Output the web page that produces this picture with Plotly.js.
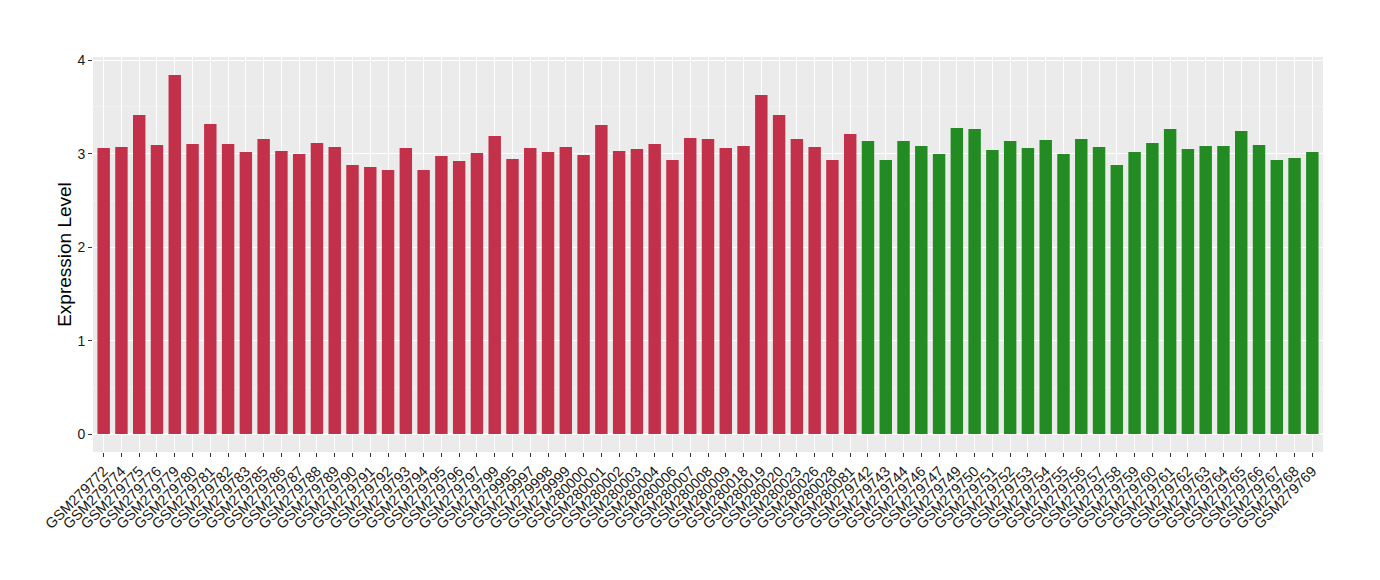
<!DOCTYPE html>
<html>
<head>
<meta charset="utf-8">
<script src="https://cdn.plot.ly/plotly-3.0.1.min.js"></script>
<style>html,body{margin:0;padding:0;background:#fff;}#chart{width:1380px;height:580px;}</style>
</head>
<body>
<div id="chart"></div>
<script>
const redSamples = ["GSM279772","GSM279774","GSM279775","GSM279776","GSM279779","GSM279780","GSM279781","GSM279782","GSM279783","GSM279785","GSM279786","GSM279787","GSM279788","GSM279789","GSM279790","GSM279791","GSM279792","GSM279793","GSM279794","GSM279795","GSM279796","GSM279797","GSM279799","GSM279995","GSM279997","GSM279998","GSM279999","GSM280000","GSM280001","GSM280002","GSM280003","GSM280004","GSM280006","GSM280007","GSM280008","GSM280009","GSM280018","GSM280019","GSM280020","GSM280023","GSM280026","GSM280028","GSM280081"];
const redValues = [3.061,3.071,3.414,3.093,3.843,3.104,3.318,3.104,3.018,3.157,3.029,2.996,3.114,3.071,2.879,2.857,2.825,3.061,2.825,2.975,2.921,3.007,3.189,2.943,3.061,3.018,3.071,2.986,3.307,3.029,3.050,3.104,2.932,3.168,3.157,3.061,3.082,3.629,3.414,3.157,3.071,2.932,3.211];
const greenSamples = ["GSM279742","GSM279743","GSM279744","GSM279746","GSM279747","GSM279749","GSM279750","GSM279751","GSM279752","GSM279753","GSM279754","GSM279755","GSM279756","GSM279757","GSM279758","GSM279759","GSM279760","GSM279761","GSM279762","GSM279763","GSM279764","GSM279765","GSM279766","GSM279767","GSM279768","GSM279769"];
const greenValues = [3.136,2.932,3.136,3.082,2.996,3.275,3.264,3.039,3.136,3.061,3.146,2.996,3.157,3.071,2.879,3.018,3.114,3.264,3.050,3.082,3.082,3.243,3.093,2.932,2.954,3.018];
const yTicks = [0,1,2,3,4];

const allCats = redSamples.concat(greenSamples);
const traces = [
  {type:'bar', x:redSamples, y:redValues, marker:{color:'#C2304A'}, hoverinfo:'x+y', showlegend:false},
  {type:'bar', x:greenSamples, y:greenValues, marker:{color:'#228B22'}, hoverinfo:'x+y', showlegend:false}
];
const layout = {
  width:1380, height:580,
  margin:{l:93, r:57, t:57, b:128},
  paper_bgcolor:'#ffffff', plot_bgcolor:'#EBEBEB',
  bargap:0.3, barmode:'group',
  font:{family:'Liberation Sans, Arial, sans-serif', color:'#1a1a1a'},
  xaxis:{
    type:'category', categoryorder:'array', categoryarray:allCats,
    range:[-0.6, allCats.length-0.4],
    tickangle:-45, tickfont:{size:14.5, color:'#1a1a1a'},
    ticks:'outside', ticklen:4, tickcolor:'#333333', tickwidth:1,
    showgrid:true, gridcolor:'#ffffff', gridwidth:1,
    zeroline:false, showline:false, fixedrange:true
  },
  yaxis:{
    range:[-0.192, 4.035],
    tickvals:yTicks, ticktext:yTicks.map(String),
    tickfont:{size:14, color:'#1a1a1a'},
    ticks:'outside', ticklen:4, tickcolor:'#333333', tickwidth:1,
    showgrid:true, gridcolor:'#ffffff', gridwidth:1.2,
    minor:{tickvals:[0.5,1.5,2.5,3.5], showgrid:true, gridcolor:'#F5F5F5', gridwidth:0.6, ticks:''},
    zeroline:false, showline:false,
    title:{text:'Expression Level', font:{size:19, color:'#000000'}, standoff:0},
    fixedrange:true
  }
};
Plotly.newPlot('chart', traces, layout, {displayModeBar:false, staticPlot:true});
</script>
</body>
</html>
